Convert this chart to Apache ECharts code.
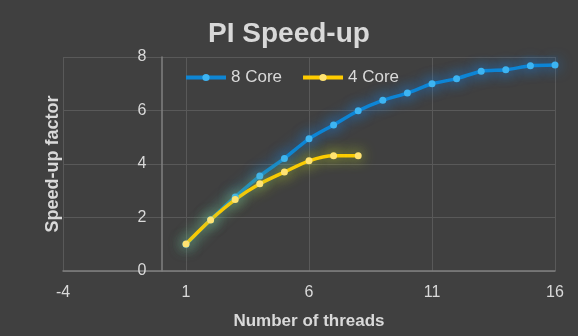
<!DOCTYPE html>
<html>
<head>
<meta charset="utf-8">
<script src="https://cdn.jsdelivr.net/npm/echarts@6/dist/echarts.min.js"></script>
<style>
html,body{margin:0;padding:0;background:#404040;}
#chart{width:578px;height:336px;}
</style>
</head>
<body>
<div id="chart"></div>
<script>
var titleText = 'PI Speed-up';
var xName = 'Number of threads';
var yName = 'Speed-up factor';
var threads8 = [1,2,3,4,5,6,7,8,9,10,11,12,13,14,15,16];
var speed8 = [1.0,1.92,2.77,3.55,4.21,4.94,5.46,5.99,6.38,6.65,7.0,7.19,7.47,7.52,7.67,7.70];
var threads4 = [1,2,3,4,5,6,7,8];
var speed4 = [1.01,1.91,2.67,3.26,3.70,4.12,4.31,4.31];
var seriesNames = ['8 Core','4 Core'];
var xMin = -4, xMax = 16;

function pairs(xs, ys){ return xs.map(function(x,i){ return [x, ys[i]]; }); }

var W = 578, gridL = 63, gridR = 23;
var plotW = W - gridL - gridR;
// y axis sits at x = 0
var yAxisOffset = -(0 - xMin) * plotW / (xMax - xMin);

var font = 'Liberation Sans, Arial, sans-serif';
var chart = echarts.init(document.getElementById('chart'));
chart.setOption({
  backgroundColor: '#404040',
  animation: false,
  textStyle: {fontFamily: font},
  title: {
    text: titleText, left: 'center', top: 15,
    textStyle: {color: '#d9d9d9', fontSize: 28, fontWeight: 'bold', fontFamily: font}
  },
  legend: {
    left: 184, top: 69, padding: 0, itemWidth: 40, itemHeight: 9, itemGap: 19,
    lineStyle: {width: 4},
    textStyle: {color: '#d9d9d9', fontSize: 17, fontFamily: font},
    data: seriesNames
  },
  grid: {left: gridL, right: gridR, top: 57, bottom: 65, containLabel: false, outerBoundsMode: 'none'},
  xAxis: {
    type: 'value', min: xMin, max: xMax, interval: 5,
    name: xName, nameLocation: 'middle', nameGap: 42,
    nameTextStyle: {color: '#d9d9d9', fontSize: 17, fontWeight: 'bold', fontFamily: font},
    axisLine: {show: true, onZero: false, lineStyle: {color: '#808080', width: 1.5}},
    axisTick: {show: false},
    axisLabel: {color: '#d9d9d9', fontSize: 16, margin: 14, fontFamily: font},
    splitLine: {show: true, lineStyle: {color: '#595959', width: 1}}
  },
  yAxis: {
    type: 'value', min: 0, max: 8, interval: 2,
    position: 'left', offset: yAxisOffset,
    name: yName, nameLocation: 'middle', nameGap: 99, nameRotate: 90,
    nameTextStyle: {color: '#d9d9d9', fontSize: 18, fontWeight: 'bold', fontFamily: font},
    axisLine: {show: true, onZero: false, lineStyle: {color: '#808080', width: 1.5}},
    axisTick: {show: false},
    axisLabel: {color: '#d9d9d9', fontSize: 16, margin: 15, fontFamily: font},
    splitLine: {show: true, lineStyle: {color: '#595959', width: 1}}
  },
  series: [
    {
      name: seriesNames[0], type: 'line', smooth: 0.25,
      data: pairs(threads8, speed8),
      symbol: 'circle', symbolSize: 7,
      lineStyle: {color: '#0e86d4', width: 3.5, shadowBlur: 14, shadowColor: 'rgba(20,140,255,0.85)'},
      itemStyle: {color: '#3db4f2', shadowBlur: 14, shadowColor: 'rgba(20,140,255,0.85)'}
    },
    {
      name: seriesNames[1], type: 'line', smooth: 0.25,
      data: pairs(threads4, speed4),
      symbol: 'circle', symbolSize: 7,
      lineStyle: {color: '#ffcc00', width: 3.5, shadowBlur: 14, shadowColor: 'rgba(190,215,40,0.85)'},
      itemStyle: {color: '#ffe372', shadowBlur: 14, shadowColor: 'rgba(190,215,40,0.85)'}
    }
  ]
});
</script>
</body>
</html>
